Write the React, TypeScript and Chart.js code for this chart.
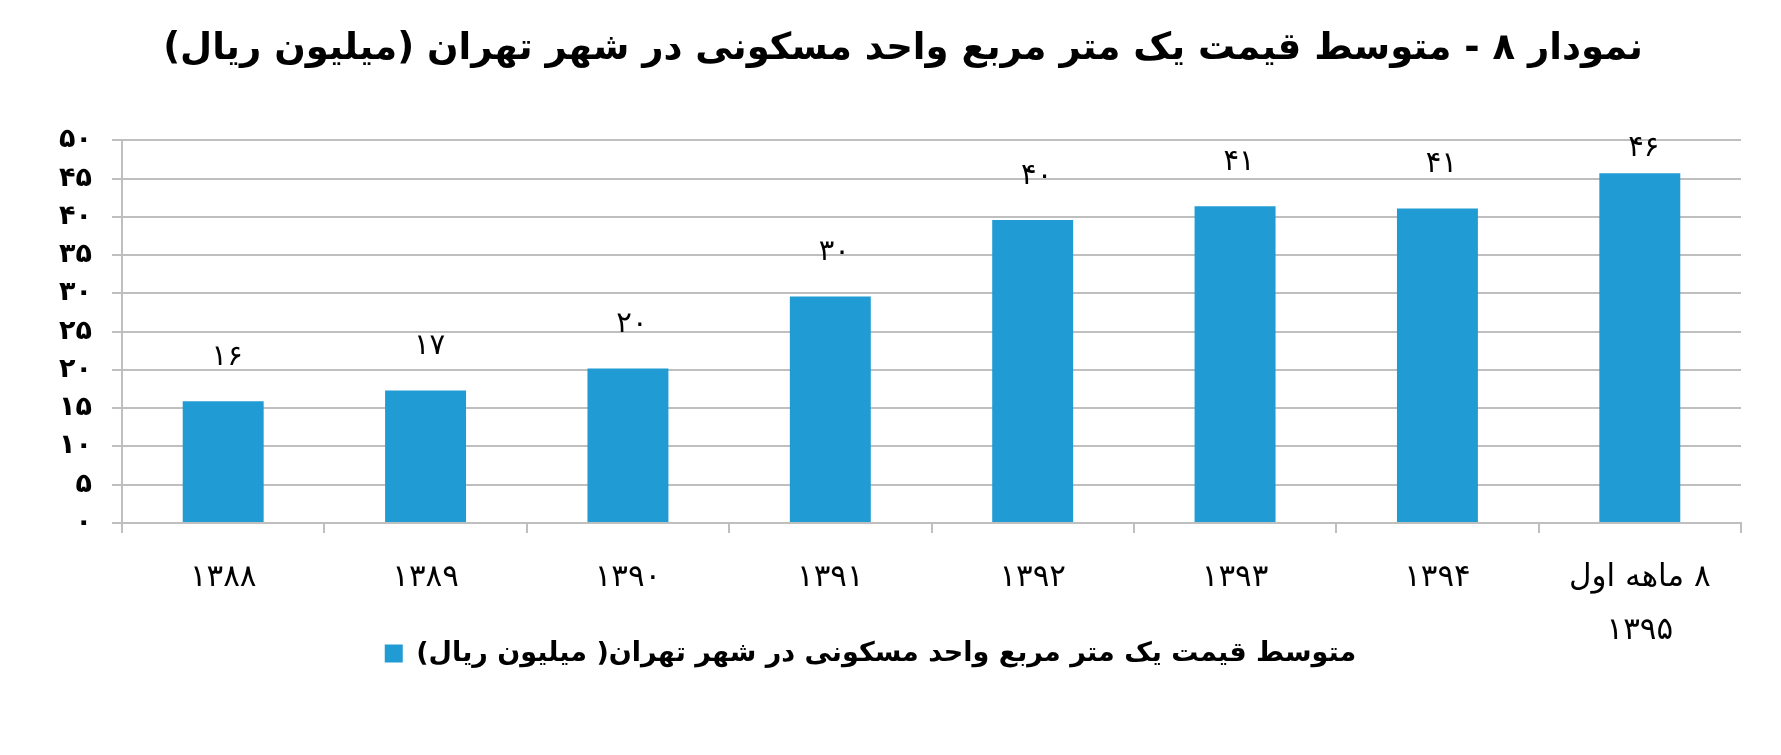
import { useEffect, useRef } from 'react';
import { Chart, registerables } from 'chart.js';

Chart.register(...registerables);

const FONT = "'DejaVu Sans', sans-serif";

const titleText = 'نمودار ۸ - متوسط قیمت یک متر مربع واحد مسکونی در شهر تهران (میلیون ریال)';
const seriesName = 'متوسط قیمت یک متر مربع واحد مسکونی در شهر تهران( میلیون ریال)';

const categories: (string | string[])[] = [
  '۱۳۸۸',
  '۱۳۸۹',
  '۱۳۹۰',
  '۱۳۹۱',
  '۱۳۹۲',
  '۱۳۹۳',
  '۱۳۹۴',
  ['۸ ماهه اول', '۱۳۹۵'],
];

const prices = [15.9, 17.3, 20.2, 29.6, 39.6, 41.4, 41.1, 45.7];
const valueLabels = ['۱۶', '۱۷', '۲۰', '۳۰', '۴۰', '۴۱', '۴۱', '۴۶'];

const yMin = 0;
const yMax = 50;
const yStep = 5;

const BAR_COLOR = '#219BD4';
const GRID_COLOR = '#BFBFBF';

const toFa = (v: number | string) =>
  String(v).replace(/\d/g, (d) => '۰۱۲۳۴۵۶۷۸۹'[Number(d)]);

const barValueLabels = {
  id: 'barValueLabels',
  afterDatasetsDraw(chart: any) {
    const { ctx, chartArea } = chart;
    const meta = chart.getDatasetMeta(0);
    ctx.save();
    ctx.font = `29px ${FONT}`;
    ctx.fillStyle = '#000';
    ctx.textAlign = 'center';
    ctx.textBaseline = 'middle';
    (ctx as any).letterSpacing = '8px';
    meta.data.forEach((el: any, i: number) => {
      const y = Math.max(el.y - 44, chartArea.top + 8);
      ctx.fillText(valueLabels[i], el.x + 4, y);
    });
    ctx.restore();
  },
};

// shift the title's centre a little to the right, as in the reference
const titleShift = {
  id: 'titleShift',
  afterLayout(chart: any) {
    const t = chart.titleBlock;
    if (t) {
      const centre = 903;
      t.left = 2 * centre - t.right;
      t.width = t.right - t.left;
    }
  },
};

export default function App() {
  const ref = useRef<HTMLCanvasElement | null>(null);

  useEffect(() => {
    document.body.style.margin = '0';
    if (!ref.current) return;
    const chart = new Chart(ref.current, {
      type: 'bar',
      data: {
        labels: categories,
        datasets: [
          {
            label: seriesName,
            data: prices,
            backgroundColor: BAR_COLOR,
            borderWidth: 0,
            barPercentage: 0.4,
            categoryPercentage: 1,
          },
        ],
      },
      options: {
        responsive: false,
        animation: false,
        layout: { padding: { left: 0, right: 40, top: 0, bottom: 78 } },
        plugins: {
          title: {
            display: true,
            text: titleText,
            color: '#000',
            font: { family: FONT, size: 37, weight: 'bold' },
            padding: { top: 27, bottom: 69 },
          },
          legend: {
            display: true,
            position: 'bottom',
            textDirection: 'rtl',
            labels: {
              boxWidth: 18,
              boxHeight: 18,
              padding: 0,
              color: '#000',
              font: { family: FONT, size: 27, weight: 'bold' },
            },
          },
          tooltip: { enabled: false },
        },
        scales: {
          x: {
            afterFit: (s: any) => {
              s.height = 117;
            },
            grid: {
              drawOnChartArea: false,
              drawTicks: true,
              tickLength: 10,
              color: GRID_COLOR,
              lineWidth: 2,
            },
            border: { color: GRID_COLOR, width: 2 },
            ticks: {
              color: '#000',
              font: { family: FONT, size: 31, lineHeight: 1.7 },
              padding: 19,
              maxRotation: 0,
              autoSkip: false,
            },
          },
          y: {
            min: yMin,
            max: yMax,
            afterFit: (s: any) => {
              s.width = 122;
            },
            grid: {
              color: GRID_COLOR,
              lineWidth: 2,
              tickLength: 10,
            },
            border: { color: GRID_COLOR, width: 2 },
            ticks: {
              stepSize: yStep,
              color: '#000',
              padding: 20,
              font: { family: FONT, size: 27, weight: 'bold' },
              callback: (v: any) => toFa(v),
            },
          },
        },
      },
      plugins: [barValueLabels, titleShift],
    });
    return () => chart.destroy();
  }, []);

  return (
    <div style={{ width: 1781, height: 755 }}>
      <canvas ref={ref} width={1781} height={755} dir="rtl" style={{ display: 'block' }} />
    </div>
  );
}
